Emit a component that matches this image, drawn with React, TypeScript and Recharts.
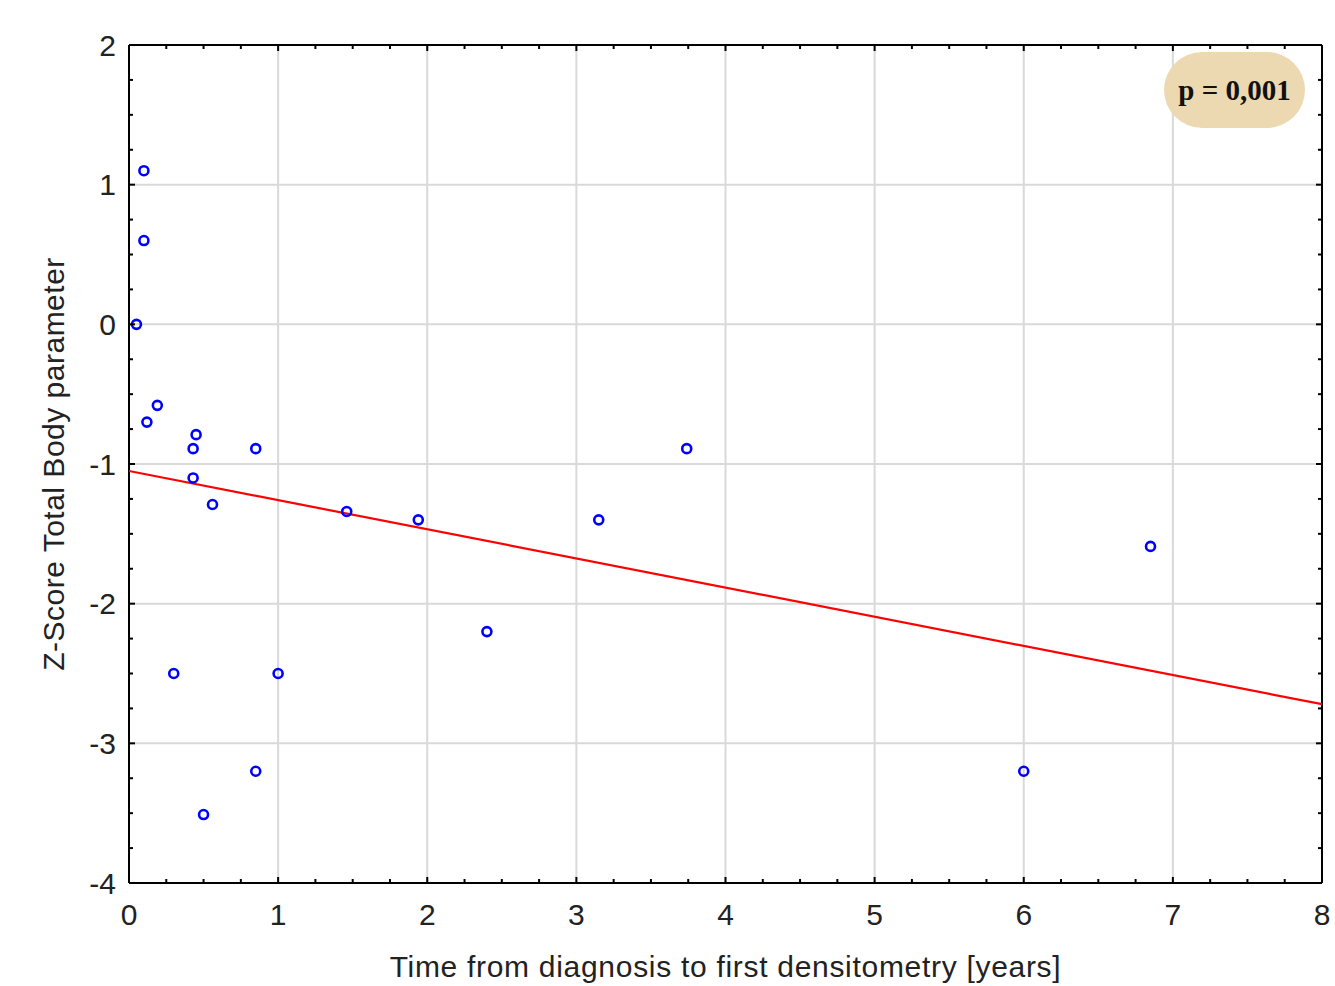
import React from 'react';
import { ScatterChart, Scatter, XAxis, YAxis, ReferenceLine } from 'recharts';

const timeYears = [0.10, 0.10, 0.05, 0.19, 0.12, 0.45, 0.43, 0.85, 0.43, 0.56, 1.46, 1.94, 3.15, 3.74, 2.40, 0.30, 1.00, 0.85, 0.50, 6.00, 6.85];
const zScores = [1.10, 0.60, 0.00, -0.58, -0.70, -0.79, -0.89, -0.89, -1.10, -1.29, -1.34, -1.40, -1.40, -0.89, -2.20, -2.50, -2.50, -3.20, -3.51, -3.20, -1.59];
const fitX = [0, 8];
const fitY = [-1.05, -2.72];
const xMajorTicks = [0, 1, 2, 3, 4, 5, 6, 7, 8];
const xAllTicks = [0, 0.25, 0.5, 0.75, 1, 1.25, 1.5, 1.75, 2, 2.25, 2.5, 2.75, 3, 3.25, 3.5, 3.75, 4, 4.25, 4.5, 4.75, 5, 5.25, 5.5, 5.75, 6, 6.25, 6.5, 6.75, 7, 7.25, 7.5, 7.75, 8];
const yMajorTicks = [-4, -3, -2, -1, 0, 1, 2];
const yAllTicks = [-4, -3.75, -3.5, -3.25, -3, -2.75, -2.5, -2.25, -2, -1.75, -1.5, -1.25, -1, -0.75, -0.5, -0.25, 0, 0.25, 0.5, 0.75, 1, 1.25, 1.5, 1.75, 2];
const xTitle = 'Time from diagnosis to first densitometry [years]';
const yTitle = 'Z-Score Total Body parameter';
const pLabel = 'p = 0,001';

const points = timeYears.map((x, i) => ({ x, y: zScores[i] }));
const fitLine = fitX.map((x, i) => ({ x, y: fitY[i] }));

const FONT = '"Liberation Sans", Arial, sans-serif';
const LABEL_SIZE = 30;
const TEXT_COLOR = '#222';
const GRID = '#d9d9d9';

const isMajor = (v: number) => Number.isInteger(v);

function BottomTick(props: any) {
  const { x, y, payload } = props;
  const major = isMajor(payload.value);
  return (
    <g>
      <line x1={x} x2={x} y1={y} y2={y - (major ? 6 : 4)} stroke="#000" strokeWidth={2} />
      {major && (
        <text x={x} y={y + 31} textAnchor="middle" dominantBaseline="central" fontFamily={FONT} fontSize={LABEL_SIZE} fill={TEXT_COLOR}>
          {String(payload.value)}
        </text>
      )}
    </g>
  );
}

function TopTick(props: any) {
  const { x, y, payload } = props;
  const major = isMajor(payload.value);
  return <line x1={x} x2={x} y1={y} y2={y + (major ? 6 : 4)} stroke="#000" strokeWidth={2} />;
}

function LeftTick(props: any) {
  const { x, y, payload } = props;
  const major = isMajor(payload.value);
  return (
    <g>
      <line x1={x} x2={x + (major ? 6 : 4)} y1={y} y2={y} stroke="#000" strokeWidth={2} />
      {major && (
        <text x={x - 13} y={y} textAnchor="end" dominantBaseline="central" fontFamily={FONT} fontSize={LABEL_SIZE} fill={TEXT_COLOR}>
          {String(payload.value)}
        </text>
      )}
    </g>
  );
}

function RightTick(props: any) {
  const { x, y, payload } = props;
  const major = isMajor(payload.value);
  return <line x1={x} x2={x - (major ? 6 : 4)} y1={y} y2={y} stroke="#000" strokeWidth={2} />;
}

function XTitle(props: any) {
  const vb = props.viewBox || {};
  return (
    <text x={vb.x + vb.width / 2} y={vb.y + vb.height - 9} textAnchor="middle" fontFamily={FONT} fontSize={LABEL_SIZE} letterSpacing={0.7} fill={TEXT_COLOR}>
      {xTitle}
    </text>
  );
}

function YTitle(props: any) {
  const vb = props.viewBox || {};
  const cx = vb.x + 53;
  const cy = vb.y + vb.height / 2;
  return (
    <text x={cx} y={cy} transform={`rotate(-90 ${cx} ${cy})`} textAnchor="middle" dominantBaseline="central" fontFamily={FONT} fontSize={LABEL_SIZE} letterSpacing={0.5} fill={TEXT_COLOR}>
      {yTitle}
    </text>
  );
}

const Circle = (props: any) => (
  <circle cx={props.cx} cy={props.cy} r={4.5} fill="none" stroke="#0000ff" strokeWidth={2.6} />
);
const Nothing = () => <g />;

export default function App() {
  return (
    <div style={{ position: 'absolute', left: 0, top: 0, width: 1335, height: 986, background: '#fff' }}>
      <ScatterChart width={1335} height={986} margin={{ top: 44, right: 12, bottom: 0, left: 0 }}>
        <XAxis
          xAxisId="b"
          dataKey="x"
          type="number"
          domain={[0, 8]}
          ticks={xAllTicks}
          interval={0}
          orientation="bottom"
          height={103}
          tickSize={0}
          tickMargin={0}
          tickLine={false}
          axisLine={{ stroke: '#000', strokeWidth: 2 }}
          tick={<BottomTick />}
          allowDataOverflow
          label={<XTitle />}
        />
        <XAxis
          xAxisId="t"
          dataKey="x"
          type="number"
          domain={[0, 8]}
          ticks={xAllTicks}
          interval={0}
          orientation="top"
          height={1}
          tickSize={0}
          tickMargin={0}
          tickLine={false}
          axisLine={{ stroke: '#000', strokeWidth: 2 }}
          tick={<TopTick />}
          allowDataOverflow
        />
        <YAxis
          yAxisId="l"
          dataKey="y"
          type="number"
          domain={[-4, 2]}
          ticks={yAllTicks}
          interval={0}
          orientation="left"
          width={129}
          tickSize={0}
          tickMargin={0}
          tickLine={false}
          axisLine={{ stroke: '#000', strokeWidth: 2 }}
          tick={<LeftTick />}
          allowDataOverflow
          label={<YTitle />}
        />
        <YAxis
          yAxisId="r"
          dataKey="y"
          type="number"
          domain={[-4, 2]}
          ticks={yAllTicks}
          interval={0}
          orientation="right"
          width={1}
          tickSize={0}
          tickMargin={0}
          tickLine={false}
          axisLine={{ stroke: '#000', strokeWidth: 2 }}
          tick={<RightTick />}
          allowDataOverflow
        />
        {xMajorTicks.slice(1, -1).map((v) => (
          <ReferenceLine key={'gx' + v} x={v} xAxisId="b" yAxisId="l" stroke={GRID} strokeWidth={2} />
        ))}
        {yMajorTicks.slice(1, -1).map((v) => (
          <ReferenceLine key={'gy' + v} y={v} xAxisId="b" yAxisId="l" stroke={GRID} strokeWidth={2} />
        ))}
        <Scatter
          data={fitLine}
          xAxisId="b"
          yAxisId="l"
          line={{ stroke: '#ff0000', strokeWidth: 2.2 }}
          shape={<Nothing />}
          isAnimationActive={false}
        />
        <Scatter data={points} xAxisId="b" yAxisId="l" shape={<Circle />} isAnimationActive={false} />
        <Scatter data={points} xAxisId="t" yAxisId="r" shape={<Nothing />} isAnimationActive={false} />
      </ScatterChart>
      <div
        style={{
          position: 'absolute',
          left: 1164,
          top: 52,
          width: 141,
          height: 76,
          borderRadius: 38,
          background: '#ecd9b1',
          display: 'flex',
          alignItems: 'center',
          justifyContent: 'center',
          fontFamily: '"Liberation Serif", "DejaVu Serif", serif',
          fontSize: 29,
          fontWeight: 'bold',
          color: '#111',
        }}
      >
        {pLabel}
      </div>
    </div>
  );
}
